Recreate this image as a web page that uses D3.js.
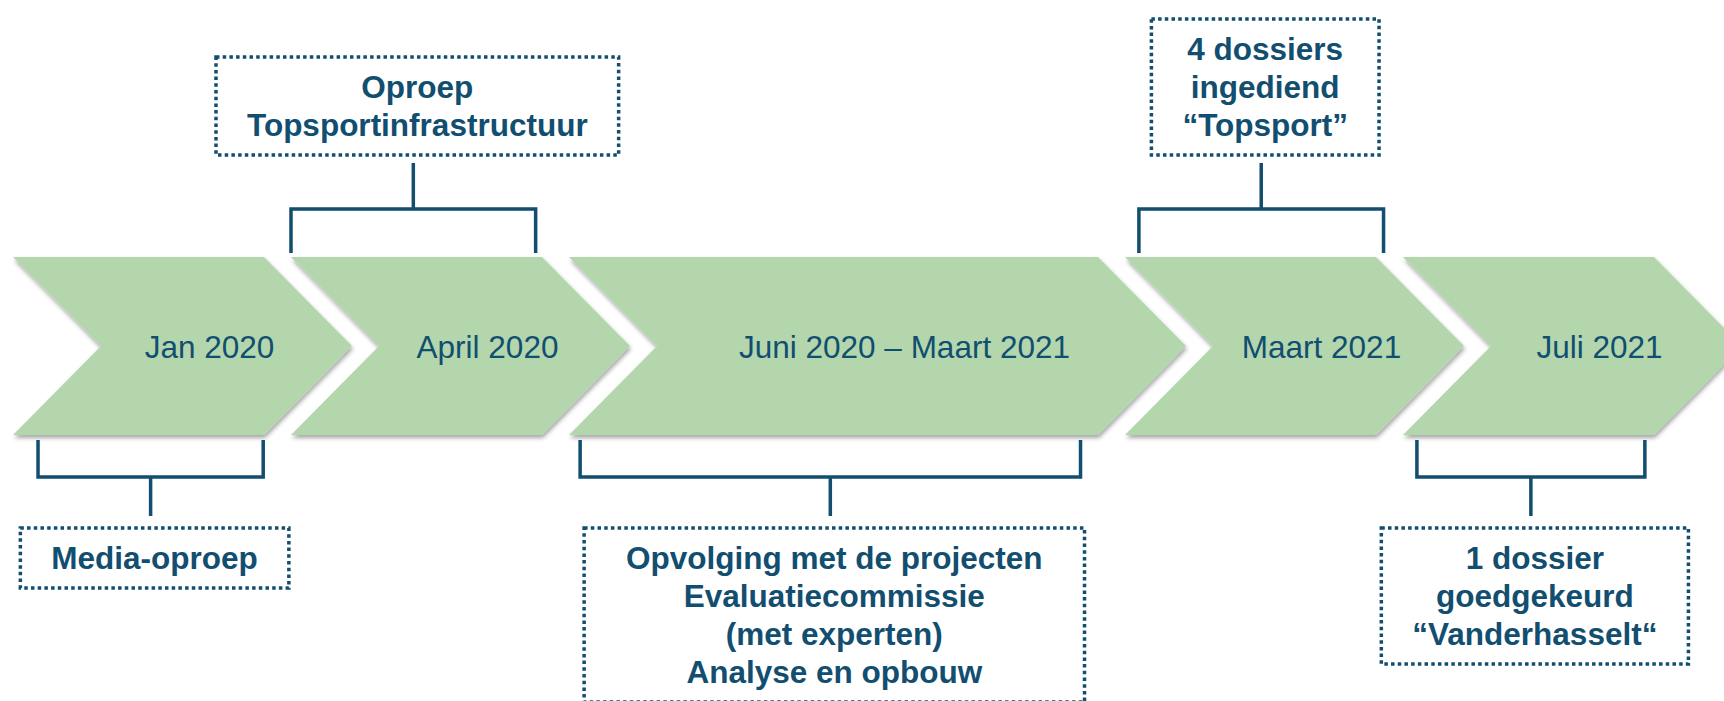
<!DOCTYPE html>
<html>
<head>
<meta charset="utf-8">
<script src="https://cdn.jsdelivr.net/npm/d3@7"></script>
<style>
  body { margin: 0; background: #fff; }
  svg { display: block; }
  .phase-label { font-family: "Liberation Sans", Arial, sans-serif; font-size: 31.5px; fill: #114e6f; text-anchor: middle; }
  .note-text { font-family: "Liberation Sans", Arial, sans-serif; font-size: 31.5px; font-weight: bold; fill: #114e6f; text-anchor: middle; }
</style>
</head>
<body>
<svg id="chart"></svg>
<script>
// timeline phases (in timeline units)
const phaseLabels = ["Jan 2020", "April 2020", "Juni 2020 – Maart 2021", "Maart 2021", "Juli 2021"]
const phaseStart = [0, 1, 2, 4, 5]
const phaseSpan = [1, 1, 2, 1, 1]

// annotations hung on the phases, bracket covers noteFrom..noteTo
const noteSide = ["below", "above", "below", "above", "below"]
const noteFrom = [0.09, 1.0, 2.04, 4.05, 5.05]
const noteTo = [0.9, 1.88, 3.84, 4.93, 5.87]
const noteLines = [
    ["Media-oproep"],
    ["Oproep", "Topsportinfrastructuur"],
    ["Opvolging met de projecten", "Evaluatiecommissie", "(met experten)", "Analyse en opbouw"],
    ["4 dossiers", "ingediend", "“Topsport”"],
    ["1 dossier", "goedgekeurd", "“Vanderhasselt“"]
]

const width = 1724, height = 701
const green = "#b3d6ac"
const ink = "#114e6f"

var svg = d3.select("#chart")
    .attr("width", width)
    .attr("height", height)

var defs = svg.append("defs")
defs.append("filter")
    .attr("id", "shadow")
    .attr("x", "-10%").attr("y", "-10%")
    .attr("width", "130%").attr("height", "130%")
    .append("feDropShadow")
    .attr("dx", 1)
    .attr("dy", 3)
    .attr("stdDeviation", 2.2)
    .attr("flood-color", "#000")
    .attr("flood-opacity", 0.35)

var x = d3.scaleLinear()
    .domain([0, 6])
    .range([13, 13 + 6 * 278])

const yTop = 257, yBottom = 435, yMid = (yTop + yBottom) / 2
const depth = 88, gap = 27

var phases = phaseLabels.map(function (d, i) {
    let left = x(phaseStart[i])
    let rightTop = x(phaseStart[i] + phaseSpan[i]) - gap
    return {
        label: d,
        left: left,
        rightTop: rightTop,
        notch: left + depth,
        tip: rightTop + depth
    }
})

var chev = svg.append("g").classed("chevrons", true)

chev.selectAll("path")
    .data(phases)
    .join("path")
    .attr("d", function (d) {
        return "M" + d.left + "," + yTop +
            "L" + d.rightTop + "," + yTop +
            "L" + d.tip + "," + yMid +
            "L" + d.rightTop + "," + yBottom +
            "L" + d.left + "," + yBottom +
            "L" + d.notch + "," + yMid + "Z"
    })
    .style("fill", green)
    .style("filter", "url(#shadow)")

chev.selectAll("text")
    .data(phases)
    .join("text")
    .classed("phase-label", true)
    .attr("x", function (d) { return (d.notch + d.tip) / 2 - 17 })
    .attr("y", yMid + 12)
    .text(function (d) { return d.label })

// brackets + dotted boxes
var notes = svg.append("g").classed("notes", true)
const lineH = 38

noteLines.forEach(function (lines, i) {
    let bx0 = x(noteFrom[i])
    let bx1 = x(noteTo[i])
    let cx = (bx0 + bx1) / 2
    let below = noteSide[i] == "below"

    let legY = below ? yBottom + 5 : yTop - 4
    let barY = below ? 477 : 209
    let stemY = below ? 516 : 163

    let g = notes.append("g")

    g.append("path")
        .attr("d", "M" + bx0 + "," + legY + "V" + barY + "H" + bx1 + "V" + legY +
            "M" + cx + "," + barY + "V" + stemY)
        .style("fill", "none")
        .style("stroke", ink)
        .style("stroke-width", 3.5)

    let boxH = 60 + (lines.length - 1) * lineH
    let boxTop = below ? stemY + 12 : stemY - 8 - boxH
    let tx = cx + 4

    let txt = g.selectAll("text")
        .data(lines)
        .join("text")
        .classed("note-text", true)
        .attr("x", tx)
        .attr("y", function (d, j) { return boxTop + 41 + j * lineH })
        .text(function (d) { return d })

    let tw = d3.max(txt.nodes(), function (n) { return n.getComputedTextLength() })
    let boxW = Math.max(tw + 62, lines.length > 3 ? bx1 - bx0 : 0)

    g.insert("rect", "text")
        .attr("x", tx - boxW / 2)
        .attr("y", boxTop)
        .attr("width", boxW)
        .attr("height", boxH)
        .style("fill", "none")
        .style("stroke", ink)
        .style("stroke-width", 3.5)
        .style("stroke-dasharray", "3.5 3.2")
})
</script>
</body>
</html>
